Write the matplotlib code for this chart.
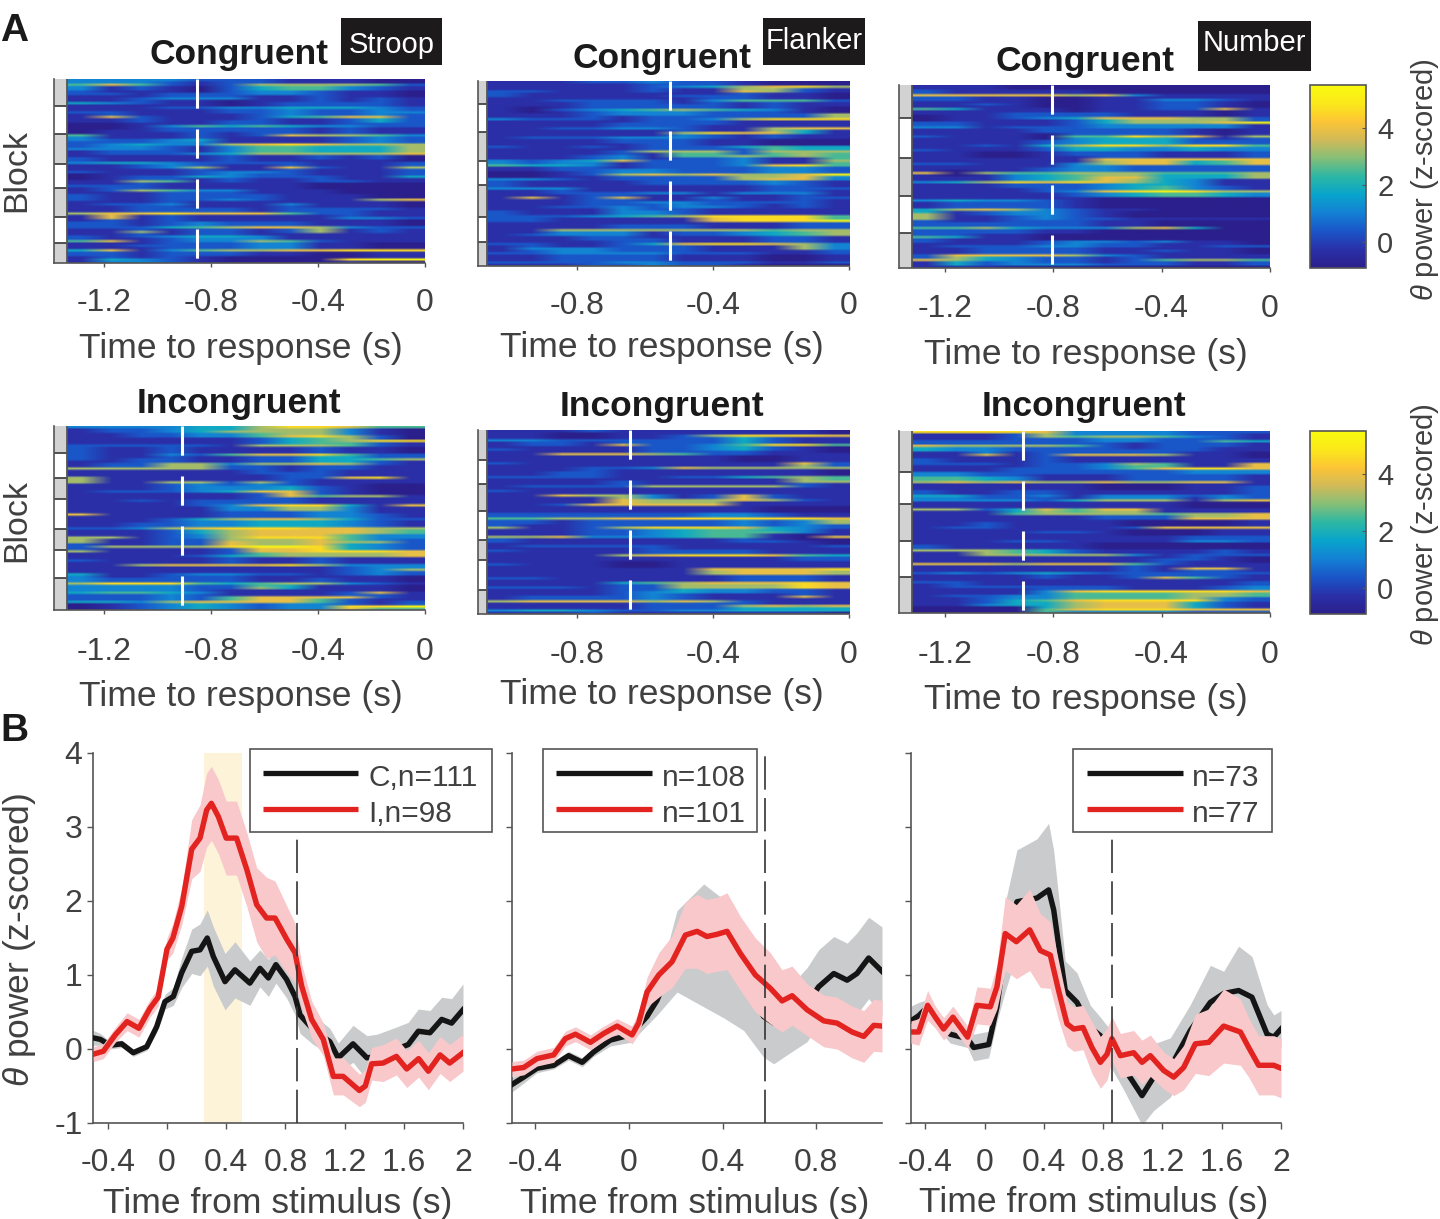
#!/usr/bin/env python
# coding: utf-8

import numpy as np
import matplotlib
matplotlib.use('Agg')
import matplotlib.pyplot as plt
from matplotlib.colors import LinearSegmentedColormap
from matplotlib.patches import Rectangle
from matplotlib.lines import Line2D

plt.rcParams['font.family'] = ['Liberation Sans', 'DejaVu Sans']
plt.rcParams['mathtext.fontset'] = 'custom'
plt.rcParams['mathtext.it'] = 'Liberation Sans:italic'
plt.rcParams['mathtext.rm'] = 'Liberation Sans'
plt.rcParams['lines.scale_dashes'] = False

# one digit per time bin, z = digit * 0.7 - 1
stroop_con = [
    "333322211100", "575212666652", "312102455321", "221222332110", "112333112121",
    "432110122221", "111223344432", "221112232233", "172111245772", "112112211242",
    "001354543322", "011222221211", "511121276653", "322341111232", "234336787666",
    "333213554446", "122234666667", "211112112120", "344322221112", "112361172116",
    "211123321112", "012243222114", "116512112211", "222111110000", "126533111000",
    "211222211100", "211223211167", "122311131110", "112222122221", "677877752211",
    "171211111332", "221232221110", "222456776322", "116122126121", "212344311111",
    "571233652111", "112222331100", "471356677888", "221222110011", "143210000899",
]
flanker_con = [
    "111223221000", "111112346786", "221112117621", "211111222110", "112222135552",
    "111222221211", "102345654310", "111233322226", "322212236888", "111122221111",
    "112233211677", "111111687741", "122233321211", "111122211000", "211212224544",
    "111126662666", "111231556565", "323472223116", "544312223785", "112233222332",
    "001267676679", "332122226773", "211112222321", "333111111222", "112223313331",
    "171271131122", "111223322221", "112232332121", "211133211111", "222345688885",
    "221111178889", "111122211122", "116666666566", "123331223456", "111222111221",
    "221124788763", "133322211163", "223333222112", "112222111001", "222233222112",
]
number_con = [
    "111000000000", "211111000000", "777776731111", "221100113321", "112100112210",
    "541110112271", "111222211101", "011234777662", "221112466679", "331222333331",
    "111122222101", "211105586716", "111123444222", "112146886885", "211124433433",
    "110012221112", "111111777777", "221113677457", "111123322222", "706556665556",
    "111345774446", "346878764311", "111222345321", "111123789866", "111112345543",
    "343321000000", "122221000000", "467632110000", "612332100000", "611232211111",
    "222222110000", "556433367400", "222211000000", "541100000000", "211123323110",
    "122233221122", "112222112110", "277776321111", "764322125665", "142333222112",
]
stroop_inc = [
    "333344688755", "122346666310", "112233578620", "111111245688", "222221666521",
    "211211112110", "211325778522", "212211224456", "122663667621", "666662212211",
    "111111222111", "611111122781", "611662621111", "111233342100", "122234772100",
    "111111275661", "112122221111", "111123788417", "111113366311", "711112223321",
    "111246776422", "112233444321", "223678887766", "111246777765", "661236888533",
    "611227667662", "266668998432", "611112778887", "111124566667", "211112112111",
    "116777786333", "111111111236", "411233221232", "322222112110", "688854566321",
    "333322641110", "455431111271", "222325777721", "443677775212", "012343233889",
]
flanker_inc = [
    "111211111110", "110011268887", "332222224211", "122172235885", "211112234210",
    "117776522111", "111111110011", "211111111172", "111223766666", "112211111110",
    "222211224565", "111121111166", "122226666621", "211111111111", "117663127211",
    "111176667621", "112777771111", "111111111000", "222222233211", "556677888887",
    "221222223236", "611268887432", "111223455531", "667333455107", "211111112210",
    "122222111112", "211112222111", "111167888754", "111111111122", "211100111111",
    "111111177778", "111111167776", "221111112221", "111145677787", "222122666687",
    "111123433221", "122223211171", "677776762111", "111112226767", "344322334444",
]
number_inc = [
    "888873333222", "111265665321", "222222332254", "766665212221", "433222222211",
    "117127776110", "211121111111", "222122365117", "111222357887", "332222222333",
    "554311122221", "676766766771", "111111000112", "211221111112", "442231333232",
    "333324666167", "111111111000", "662475771111", "111566665667", "111111222777",
    "112111100001", "122111127777", "111122100011", "111111111222", "111221111332",
    "211111000000", "666542111121", "116666631222", "111111112210", "777677752111",
    "111111121771", "232343222222", "111121127521", "221111111112", "122222211123",
    "111137888887", "122335555665", "112457888832", "113446777421", "000057888777",
]

# trial numbers where a block ends
blocks_stroop_con = [5.9, 12, 18.5, 23.7, 30, 35.6]
blocks_flanker_con = [4.9, 11.1, 17.2, 22.4, 29.5, 34.8]
blocks_number_con = [7.2, 16, 24.3, 32.4]
blocks_stroop_inc = [5.8, 11.2, 15.8, 22.3, 27, 33]
blocks_flanker_inc = [6.6, 11.8, 17.7, 23.9, 28.3, 34.7]
blocks_number_inc = [9, 16.1, 24.1, 32]

# mean reaction time marks (s before response)
rt_con = [-0.852, -0.526, -0.806]
rt_inc = [-0.908, -0.644, -0.91]

heat_ticks_long = [-1.2, -0.8, -0.4, 0]
heat_labels_long = ['-1.2', '-0.8', '-0.4', '0']
heat_ticks_short = [-0.8, -0.4, 0]
heat_labels_short = ['-0.8', '-0.4', '0']

# panel B, stroop
s_c_t = [-0.498, -0.45, -0.385, -0.306, -0.228, -0.137, -0.07, -0.014, 0.043, 0.099, 0.167, 0.223, 0.272, 0.313,
         0.392, 0.459, 0.56, 0.628, 0.685, 0.736, 0.808, 0.865, 0.899, 0.989, 1.1, 1.157, 1.257, 1.351,
         1.419, 1.554, 1.63, 1.698, 1.777, 1.856, 1.923, 2.0]
s_c = [0.15, 0.13, 0.05, 0.07, -0.05, 0.03, 0.3, 0.64, 0.71, 1.03, 1.32, 1.34, 1.5, 1.25,
       0.91, 1.07, 0.89, 1.09, 0.96, 1.14, 0.94, 0.71, 0.46, 0.26, 0.1, -0.12, 0.07, -0.12,
       -0.1, 0.0, 0.06, 0.24, 0.22, 0.4, 0.35, 0.53]
s_c_sem = [0.1, 0.08, 0.05, 0.05, 0.05, 0.05, 0.08, 0.1, 0.12, 0.2, 0.3, 0.35, 0.38, 0.4,
           0.38, 0.38, 0.3, 0.25, 0.25, 0.25, 0.25, 0.25, 0.25, 0.2, 0.18, 0.2, 0.25, 0.3,
           0.3, 0.3, 0.3, 0.3, 0.3, 0.3, 0.33, 0.35]
s_i_t = [-0.498, -0.43, -0.35, -0.27, -0.19, -0.115, -0.06, 0.0, 0.04, 0.10, 0.167, 0.223, 0.268, 0.30,
         0.347, 0.40, 0.47, 0.54, 0.606, 0.673, 0.73, 0.81, 0.865, 0.91, 0.977, 1.056, 1.124, 1.19,
         1.30, 1.34, 1.383, 1.46, 1.55, 1.62, 1.70, 1.766, 1.845, 1.91, 2.0]
s_i = [-0.07, -0.03, 0.19, 0.37, 0.28, 0.55, 0.7, 1.35, 1.5, 1.93, 2.7, 2.85, 3.23, 3.32,
       3.14, 2.85, 2.85, 2.42, 1.95, 1.77, 1.77, 1.48, 1.3, 0.85, 0.4, 0.13, -0.37, -0.37,
       -0.56, -0.5, -0.2, -0.19, -0.1, -0.27, -0.13, -0.3, -0.08, -0.19, -0.05]
s_i_sem = [0.1, 0.1, 0.1, 0.12, 0.12, 0.12, 0.12, 0.15, 0.2, 0.25, 0.4, 0.45, 0.5, 0.5,
           0.5, 0.5, 0.5, 0.5, 0.5, 0.55, 0.5, 0.45, 0.4, 0.3, 0.25, 0.22, 0.25, 0.25,
           0.22, 0.22, 0.22, 0.25, 0.25, 0.25, 0.25, 0.25, 0.25, 0.25, 0.25]

# panel B, flanker
f_c_t = [-0.5, -0.45, -0.393, -0.322, -0.258, -0.2, -0.151, -0.08, 0.006, 0.077, 0.12, 0.205, 0.319, 0.405,
         0.49, 0.575, 0.618, 0.689, 0.761, 0.81, 0.875, 0.932, 0.974, 1.024, 1.081]
f_c = [-0.48, -0.38, -0.26, -0.22, -0.09, -0.18, -0.04, 0.12, 0.19, 0.44, 0.66, 1.32, 1.4, 1.22,
       0.95, 0.44, 0.35, 0.4, 0.6, 0.84, 1.02, 0.93, 1.02, 1.23, 1.05]
f_c_sem = [0.1, 0.08, 0.06, 0.05, 0.06, 0.06, 0.06, 0.08, 0.1, 0.12, 0.2, 0.55, 0.83, 0.8,
           0.7, 0.55, 0.55, 0.45, 0.5, 0.5, 0.5, 0.5, 0.55, 0.55, 0.6]
f_i_t = [-0.5, -0.45, -0.393, -0.322, -0.272, -0.229, -0.165, -0.108, -0.051, 0.013, 0.041, 0.077, 0.127, 0.184,
         0.241, 0.291, 0.333, 0.376, 0.419, 0.476, 0.54, 0.604, 0.654, 0.697, 0.761, 0.832, 0.889, 0.953,
         1.003, 1.046, 1.081]
f_i = [-0.27, -0.25, -0.13, -0.08, 0.14, 0.2, 0.09, 0.21, 0.31, 0.19, 0.35, 0.77, 1.0, 1.18,
       1.54, 1.59, 1.52, 1.55, 1.59, 1.29, 1.0, 0.82, 0.65, 0.72, 0.53, 0.38, 0.35, 0.23,
       0.17, 0.32, 0.31]
f_i_sem = [0.1, 0.1, 0.1, 0.1, 0.1, 0.1, 0.1, 0.1, 0.1, 0.12, 0.15, 0.2, 0.3, 0.35,
           0.45, 0.5, 0.5, 0.5, 0.52, 0.5, 0.5, 0.48, 0.42, 0.4, 0.35, 0.35, 0.35, 0.35,
           0.35, 0.35, 0.35]

# panel B, number
n_c_t = [-0.497, -0.445, -0.385, -0.333, -0.232, -0.115, -0.074, 0.027, 0.083, 0.139, 0.218, 0.353, 0.432, 0.466,
         0.511, 0.544, 0.623, 0.713, 0.781, 0.859, 0.938, 1.062, 1.141, 1.253, 1.388, 1.523, 1.613, 1.714,
         1.804, 1.906, 1.951, 2.0]
n_c = [0.38, 0.45, 0.57, 0.43, 0.2, 0.14, 0.02, 0.06, 0.57, 1.38, 1.99, 2.04, 2.15, 1.88,
       1.24, 0.79, 0.63, 0.29, 0.18, -0.02, -0.25, -0.63, -0.38, -0.25, 0.25, 0.63, 0.75, 0.79,
       0.7, 0.2, 0.16, 0.27]
n_c_sem = [0.2, 0.18, 0.1, 0.12, 0.12, 0.12, 0.18, 0.18, 0.2, 0.6, 0.7, 0.8, 0.9, 0.8,
           0.6, 0.4, 0.4, 0.3, 0.25, 0.25, 0.3, 0.4, 0.45, 0.4, 0.35, 0.5, 0.3, 0.6,
           0.55, 0.4, 0.3, 0.25]
n_i_t = [-0.497, -0.445, -0.385, -0.333, -0.277, -0.214, -0.115, -0.052, 0.038, 0.083, 0.139, 0.214, 0.304, 0.376,
         0.443, 0.499, 0.556, 0.601, 0.664, 0.724, 0.781, 0.826, 0.859, 0.916, 1.006, 1.062, 1.118, 1.208,
         1.276, 1.343, 1.422, 1.512, 1.613, 1.726, 1.782, 1.849, 1.951, 2.0]
n_i = [0.23, 0.23, 0.59, 0.43, 0.27, 0.43, 0.16, 0.59, 0.57, 0.84, 1.56, 1.45, 1.61, 1.33,
       1.27, 0.79, 0.34, 0.27, 0.29, 0.02, -0.18, -0.07, 0.14, -0.09, -0.05, -0.18, -0.09, -0.29,
       -0.38, -0.25, 0.07, 0.09, 0.31, 0.23, 0.02, -0.22, -0.22, -0.26]
n_i_sem = [0.15, 0.18, 0.2, 0.15, 0.15, 0.15, 0.15, 0.25, 0.25, 0.3, 0.5, 0.5, 0.55, 0.5,
           0.45, 0.4, 0.3, 0.3, 0.3, 0.35, 0.35, 0.35, 0.3, 0.3, 0.3, 0.3, 0.28, 0.25,
           0.25, 0.3, 0.4, 0.45, 0.5, 0.45, 0.4, 0.4, 0.4, 0.4]

rt_stim = [0.88, 0.583, 0.86]
window = [0.252, 0.505]
line_ticks_long = [-0.4, 0, 0.4, 0.8, 1.2, 1.6, 2]
line_labels_long = ['-0.4', '0', '0.4', '0.8', '1.2', '1.6', '2']
line_ticks_short = [-0.4, 0, 0.4, 0.8]
line_labels_short = ['-0.4', '0', '0.4', '0.8']
power_ticks = [-1, 0, 1, 2, 3, 4]
cbar_ticks = [0, 2, 4]

GREY = '#404040'
AXIS = '#555555'
W, H = 1440.0, 1219.0

parula = LinearSegmentedColormap.from_list('parula', [
    '#2b1f8c', '#2a30a8', '#1a55c8', '#1480d4', '#08a4cc', '#2cb7a4',
    '#84bf78', '#d0ba58', '#fcc436', '#fbe81a', '#f9fb0e'])

fig = plt.figure(figsize=(14.4, 12.19), dpi=100)


def px_axes(x0, y0, x1, y1):
    return fig.add_axes([x0 / W, 1 - y1 / H, (x1 - x0) / W, (y1 - y0) / H])


def digits(rows):
    vals = np.array([[int(c) * 0.7 - 1 for c in r] for r in rows])
    # keep the streaks thin: the lower neighbour shows between trials
    out = np.repeat(vals, 2, axis=0)
    out[1::2] = np.minimum(vals, np.roll(vals, -1, axis=0))
    return out


def heat_panel(box, strip_px, scale, rows, block_ends, rt, ticks, labels, xlabel_y, tick_y):
    x0, y0, x1, y1 = box
    ax = px_axes(x0, y0, x1, y1)
    left = -(x1 - x0) / scale
    start = -(x1 - strip_px) / scale
    im = ax.imshow(digits(rows), cmap=parula, vmin=-0.93, vmax=5.5, aspect='auto',
                   interpolation='bilinear', extent=[start, 0, len(rows), 0])
    ax.set_xlim(left, 0)
    ax.set_ylim(len(rows), 0)

    # block strip on the left
    edges = [0] + block_ends + [len(rows)]
    for i in range(len(edges) - 1):
        col = '#d2d2d2' if i % 2 == 0 else 'white'
        ax.add_patch(Rectangle((left, edges[i]), start - left, edges[i + 1] - edges[i],
                               facecolor=col, edgecolor='none', clip_on=True))
    for e in block_ends:
        ax.plot([left, start], [e, e], color='#444444', lw=1.3, solid_capstyle='butt')
    ax.plot([start, start], [0, len(rows)], color='#555555', lw=1.3, solid_capstyle='butt')

    ax.plot([rt, rt], [0, len(rows)], color='white', lw=2.2, dashes=(21, 15),
            dash_capstyle='butt')

    for s in ['top', 'right']:
        ax.spines[s].set_visible(False)
    ax.spines['left'].set_color(AXIS)
    ax.spines['bottom'].set_color(AXIS)
    ax.spines['left'].set_linewidth(1.2)
    ax.spines['bottom'].set_linewidth(1.2)
    ax.set_yticks([])
    ax.set_xticks(ticks)
    ax.set_xticklabels(labels, fontsize=23, color=GREY)
    ax.tick_params(axis='x', length=3, width=1, color=AXIS, pad=(tick_y - y1 - 16) / 1.39)
    ax.set_xlabel('Time to response (s)', fontsize=25.5, color=GREY)
    ax.xaxis.set_label_coords(xlabel_y[0], -(xlabel_y[1] - 14 - y1) / (y1 - y0))
    return ax, im


def trace_panel(box, xlim, c_data, i_data, rt, ticks, labels):
    x0, y0, x1, y1 = box
    ax = px_axes(x0, y0, x1, y1)
    c_t, c_v, c_sem = [np.array(a) for a in c_data]
    i_t, i_v, i_sem = [np.array(a) for a in i_data]
    # the pink band sits on top of the black trace, as in the source figure
    ax.fill_between(c_t, c_v - c_sem, c_v + c_sem, color='#c9cbcc', lw=0, zorder=2)
    ax.plot(c_t, c_v, color='#151515', lw=3.9, zorder=3, solid_joinstyle='round')
    ax.fill_between(i_t, i_v - i_sem, i_v + i_sem, color='#f8c8cb', lw=0, zorder=4)
    ax.plot(i_t, i_v, color='#e2231f', lw=3.9, zorder=5, solid_joinstyle='round')
    ax.plot([rt, rt], [-1, 4], color='#333333', lw=1.2, dashes=(24, 6), zorder=6,
            dash_capstyle='butt')
    ax.set_xlim(xlim)
    ax.set_ylim(-1, 4)
    for s in ['top', 'right']:
        ax.spines[s].set_visible(False)
    for s in ['left', 'bottom']:
        ax.spines[s].set_color(AXIS)
        ax.spines[s].set_linewidth(1.2)
    ax.set_xticks(ticks)
    ax.set_xticklabels(labels, fontsize=23, color=GREY)
    ax.set_yticks(power_ticks)
    ax.set_yticklabels([])
    ax.tick_params(axis='both', length=4, width=1, color=AXIS)
    ax.tick_params(axis='x', pad=14)
    ax.set_xlabel('Time from stimulus (s)', fontsize=25.5, color=GREY)
    return ax


def tag(x0, y0, x1, y1, label, text_y):
    fig.patches.append(Rectangle((x0 / W, 1 - y1 / H), (x1 - x0) / W, (y1 - y0) / H,
                                 transform=fig.transFigure, facecolor='#1c1a1b', edgecolor='none'))
    fig.text((x0 + x1) / 2 / W, 1 - text_y / H, label, color='white', fontsize=21,
             ha='center', va='center')


def title(x, y, label):
    fig.text(x / W, 1 - (y + 2.5) / H, label, fontsize=25.5, fontweight='bold', color='#1a1a1a',
             ha='center', va='center')


def legend_box(x0, x1, line_x0, line_x1, text_x, labels):
    y0, y1 = 749, 832
    fig.add_artist(Rectangle((x0 / W, 1 - y1 / H), (x1 - x0) / W, (y1 - y0) / H,
                             transform=fig.transFigure, facecolor='white', edgecolor=AXIS,
                             lw=1.2, zorder=20))
    for y, col, lab in zip([773, 809], ['#151515', '#e2231f'], labels):
        fig.add_artist(Line2D([line_x0 / W, line_x1 / W], [1 - y / H, 1 - y / H], color=col,
                              lw=3.8, solid_capstyle='butt', zorder=21))
        fig.text(text_x / W, 1 - (y + 5) / H, lab, fontsize=21.5, color=GREY, va='center',
                 ha='left', zorder=21)


# panel A heat maps
heat_panel((54, 79, 425, 263), 67, 267.5, stroop_con, blocks_stroop_con, rt_con[0],
           heat_ticks_long, heat_labels_long, (0.505, 346), 300)
heat_panel((478, 81, 849, 266), 487, 340.0, flanker_con, blocks_flanker_con, rt_con[1],
           heat_ticks_short, heat_labels_short, (0.495, 345), 303)
_, im_top = heat_panel((899, 85, 1270, 268), 912, 271.0, number_con, blocks_number_con, rt_con[2],
                       heat_ticks_long, heat_labels_long, (0.504, 352), 306)
heat_panel((54, 426, 425, 610), 67, 267.5, stroop_inc, blocks_stroop_inc, rt_inc[0],
           heat_ticks_long, heat_labels_long, (0.505, 694), 649)
heat_panel((478, 430, 849, 614), 487, 340.0, flanker_inc, blocks_flanker_inc, rt_inc[1],
           heat_ticks_short, heat_labels_short, (0.495, 692), 652)
_, im_bot = heat_panel((899, 431, 1270, 613), 912, 271.0, number_inc, blocks_number_inc, rt_inc[2],
                       heat_ticks_long, heat_labels_long, (0.504, 697), 652)

for box, im, mid in [((1310, 85, 1366, 268), im_top, 180), ((1310, 431, 1366, 614), im_bot, 525)]:
    cax = px_axes(*box)
    cb = fig.colorbar(im, cax=cax)
    cb.set_ticks(cbar_ticks)
    cb.set_ticklabels([str(t) for t in cbar_ticks])
    cb.outline.set_edgecolor(AXIS)
    cb.outline.set_linewidth(1.2)
    cax.tick_params(direction='in', length=3, color=AXIS, labelsize=21, labelcolor=GREY, pad=8)
    fig.text(1425 / W, 1 - mid / H, r'$\theta$ power (z-scored)', rotation=90, fontsize=21,
             color=GREY, ha='center', va='center')

for y in [171, 520]:
    fig.text(17 / W, 1 - y / H, 'Block', rotation=90, fontsize=24.5, color=GREY,
             ha='center', va='center')

title(239, 52, 'Congruent')
title(662, 56, 'Congruent')
title(1085, 59, 'Congruent')
title(239, 401, 'Incongruent')
title(662, 404, 'Incongruent')
title(1084, 404, 'Incongruent')

tag(341, 18, 442, 65, 'Stroop', 45)
tag(763, 18, 865, 65, 'Flanker', 41)
tag(1198, 21, 1311, 71, 'Number', 43)

fig.text(0 / W, 1 - 31 / H, 'A', fontsize=28, fontweight='bold', color='#1a1a1a', va='center')
fig.text(0 / W, 1 - 731 / H, 'B', fontsize=28, fontweight='bold', color='#1a1a1a', va='center')

# panel B traces
ax_s = trace_panel((93, 753, 463, 1123), (-0.5, 2.0), (s_c_t, s_c, s_c_sem), (s_i_t, s_i, s_i_sem),
                   rt_stim[0], line_ticks_long, line_labels_long)
ax_s.axvspan(window[0], window[1], color='#fdf3d9', lw=0, zorder=1)
ax_s.set_yticklabels(['-1', '0', '1', '2', '3', '4'], fontsize=23, color=GREY)
ax_s.set_ylabel(r'$\theta$ power (z-scored)', fontsize=25.5, color=GREY)
ax_s.yaxis.set_label_coords(-0.148, 0.495)
ax_s.xaxis.set_label_coords(0.5, -0.173)
ax_f = trace_panel((512, 753, 882, 1123), (-0.5, 1.081), (f_c_t, f_c, f_c_sem), (f_i_t, f_i, f_i_sem),
                   rt_stim[1], line_ticks_short, line_labels_short)
ax_f.xaxis.set_label_coords(0.493, -0.173)
ax_n = trace_panel((911, 753, 1281, 1123), (-0.497, 2.0), (n_c_t, n_c, n_c_sem), (n_i_t, n_i, n_i_sem),
                   rt_stim[2], line_ticks_long, line_labels_long)
ax_n.xaxis.set_label_coords(0.493, -0.17)

legend_box(250, 492, 263, 358, 368, ['C,n=111', 'I,n=98'])
legend_box(543, 757, 556, 652, 662, ['n=108', 'n=101'])
legend_box(1073, 1272, 1087, 1183, 1192, ['n=73', 'n=77'])

fig.savefig('out.png', dpi=100)
